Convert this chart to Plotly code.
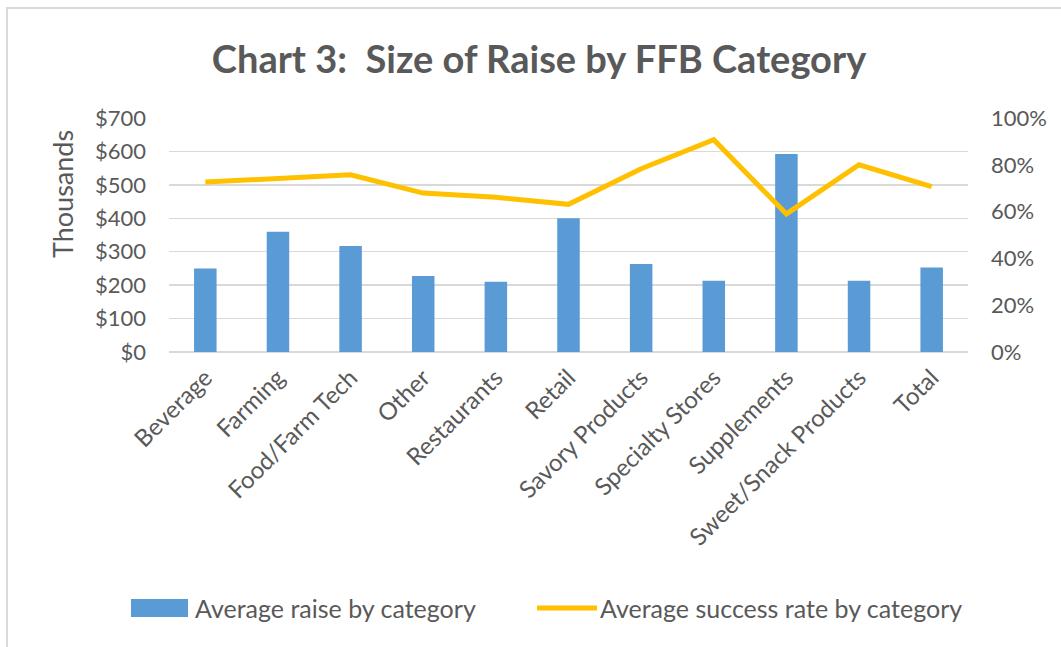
import plotly.graph_objects as go

categories = ["Beverage", "Farming", "Food/Farm Tech", "Other", "Restaurants", "Retail",
              "Savory Products", "Specialty Stores", "Supplements", "Sweet/Snack Products", "Total"]
avg_raise = [250, 360, 317, 227, 210, 400, 263, 213, 592, 213, 253]
success_rate = [0.726, 0.74, 0.757, 0.679, 0.661, 0.631, 0.783, 0.907, 0.59, 0.80, 0.707]
series_names = ["Average raise by category", "Average success rate by category"]

FONT = "Lato"
GRAY = "#595959"
GRID = "#d9d9d9"
BLUE = "#5b9bd5"
ORANGE = "#ffc000"

fig = go.Figure()
fig.add_trace(go.Bar(x=categories, y=avg_raise, name=series_names[0],
                     marker=dict(color=BLUE, line=dict(width=0)), yaxis="y"))
fig.add_trace(go.Scatter(x=categories, y=success_rate, name=series_names[1],
                         mode="lines", line=dict(color=ORANGE, width=5), yaxis="y2"))

L, R, T, B = 169, 93, 118, 295
W, H = 1061, 647
pw, ph = W - L - R, H - T - B


def px_x(x):
    return (x - L) / pw


def px_y(y):
    return (T + ph - y) / ph


fig.update_layout(
    width=W, height=H,
    margin=dict(l=L, r=R, t=T, b=B, autoexpand=False),
    paper_bgcolor="white", plot_bgcolor="white",
    font=dict(family=FONT, color=GRAY, size=22),
    title=dict(text="<b>Chart 3:  Size of Raise by FFB Category</b>",
               x=539 / W, xanchor="center", y=1 - 60 / H, yanchor="middle",
               font=dict(size=38, color=GRAY, family=FONT)),
    bargap=0.69,
    showlegend=False,
    xaxis=dict(tickangle=-45, tickfont=dict(size=24, color=GRAY), showgrid=False,
               showline=False, ticks="", ticklabelstandoff=6, fixedrange=True),
    yaxis=dict(range=[0, 700], dtick=100, tickprefix="$", showgrid=True, gridcolor=GRID,
               gridwidth=1.5, zeroline=True, zerolinecolor=GRID, zerolinewidth=1.5,
               tickfont=dict(size=22, color=GRAY), ticklabelstandoff=22,
               fixedrange=True),
    yaxis2=dict(range=[0, 1], dtick=0.2, tickformat=".0%", overlaying="y", side="right",
                showgrid=False, zeroline=False, tickfont=dict(size=22, color=GRAY),
                ticklabelstandoff=22, fixedrange=True),
)

# display-units label
fig.add_annotation(xref="paper", yref="paper", x=px_x(62), y=px_y(194),
                   text="Thousands", textangle=-90, showarrow=False,
                   xanchor="center", yanchor="middle",
                   font=dict(size=27, color=GRAY, family=FONT))

# legend drawn as decoration
fig.add_shape(type="rect", xref="paper", yref="paper",
              x0=px_x(131), x1=px_x(188), y0=px_y(617), y1=px_y(599),
              line=dict(width=0), fillcolor=BLUE)
fig.add_annotation(xref="paper", yref="paper", x=px_x(193), y=px_y(608),
                   text=series_names[0], showarrow=False, xanchor="left", yanchor="middle",
                   font=dict(size=25, color=GRAY, family=FONT))
fig.add_shape(type="line", xref="paper", yref="paper",
              x0=px_x(537), x1=px_x(597), y0=px_y(608), y1=px_y(608),
              line=dict(width=5, color=ORANGE))
fig.add_annotation(xref="paper", yref="paper", x=px_x(598), y=px_y(608),
                   text=series_names[1], showarrow=False, xanchor="left", yanchor="middle",
                   font=dict(size=25, color=GRAY, family=FONT))

fig.add_shape(type="rect", xref="paper", yref="paper",
              x0=px_x(7), x1=px_x(W + 20), y0=px_y(H + 20), y1=px_y(8),
              line=dict(color=GRID, width=2), fillcolor="rgba(0,0,0,0)", layer="below")

fig.write_html("out.html", config={"displayModeBar": False, "staticPlot": True},
               post_script="document.body.style.margin='0';document.body.style.padding='0';")
